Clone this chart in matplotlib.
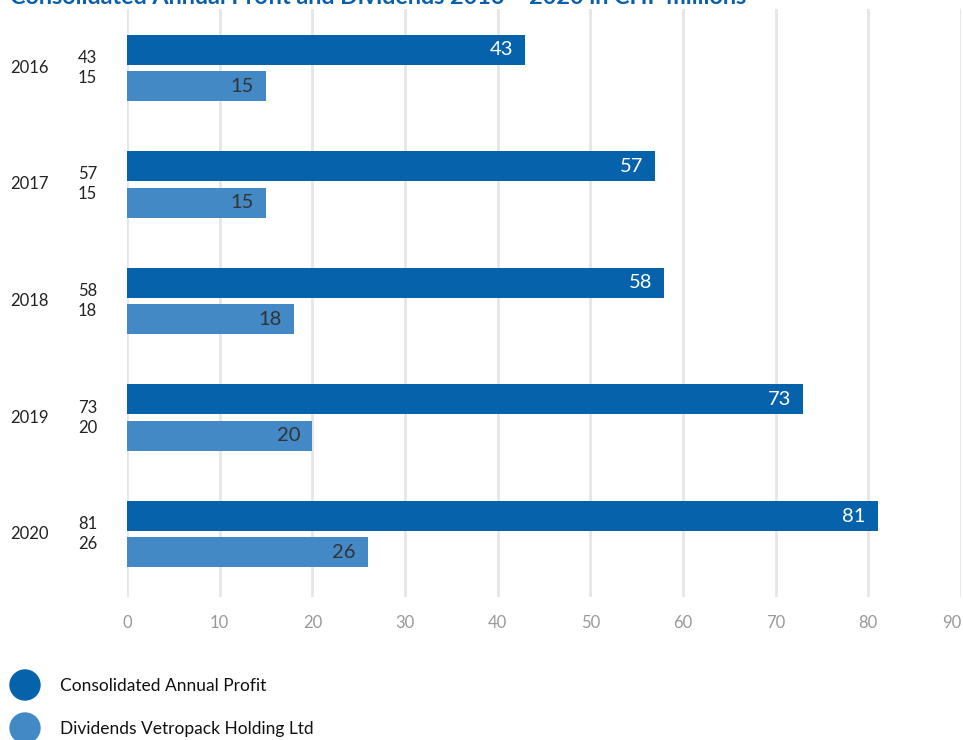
import matplotlib
matplotlib.use("Agg")
import matplotlib.pyplot as plt
from matplotlib.patches import Ellipse

years = ["2016", "2017", "2018", "2019", "2020"]
profit = [43, 57, 58, 73, 81]
dividends = [15, 15, 18, 20, 26]
series_names = ["Consolidated Annual Profit", "Dividends Vetropack Holding Ltd"]
xticks = [0, 10, 20, 30, 40, 50, 60, 70, 80, 90]
title = "Consolidated Annual Profit and Dividends 2016 – 2020 in CHF millions"

c_profit = "#0562ab"
c_div = "#4389c6"
font = "Lato"

fig = plt.figure(figsize=(9.63, 7.4), dpi=100)
W, H = 963, 740
ax = fig.add_axes([127 / W, 1 - 597 / H, 834 / W, (597 - 9) / H])

off = 0.155
bh = 0.2575
ypos = list(range(len(years)))
ax.barh([y - off for y in ypos], profit, height=bh, color=c_profit, zorder=3)
ax.barh([y + off for y in ypos], dividends, height=bh, color=c_div, zorder=3)

for y, p, d in zip(ypos, profit, dividends):
    ax.text(p - 1.3, y - off, str(p), ha="right", va="center", color="white",
            fontsize=14.5, family=font, zorder=5)
    ax.text(d - 1.3, y + off, str(d), ha="right", va="center", color="#333333",
            fontsize=14.5, family=font, zorder=5)

ax.set_xlim(0, 90)
ax.set_ylim(4.54, -0.506)
ax.set_xticks(xticks)
ax.set_xticklabels([str(t) for t in xticks], color="#999999", fontsize=12, family=font)
ax.get_xticklabels()[-1].set_ha("right")
ax.tick_params(axis="x", length=0, pad=13)
ax.set_yticks([])
ax.grid(axis="x", color="#e6e6e6", linewidth=2, zorder=0)
ax.set_axisbelow(True)
for s in ax.spines.values():
    s.set_visible(False)

# left labels
for y, yr, p, d in zip(ypos, years, profit, dividends):
    ax.annotate(yr, xy=(0, y), xycoords=("axes fraction", "data"),
                xytext=(-98, 0), textcoords="offset pixels",
                ha="center", va="center", fontsize=12, family=font, color="#222222")
    ax.annotate(str(p), xy=(0, y), xycoords=("axes fraction", "data"),
                xytext=(-30, 10), textcoords="offset pixels",
                ha="right", va="center", fontsize=12, family=font, color="#222222")
    ax.annotate(str(d), xy=(0, y), xycoords=("axes fraction", "data"),
                xytext=(-30, -10), textcoords="offset pixels",
                ha="right", va="center", fontsize=12, family=font, color="#222222")

# title (cropped at top, as in the reference)
fig.text(10 / W, 1 - 4 / H, title, ha="left", va="baseline", fontsize=16.8,
         fontweight="bold", color="#0a5eaa", family=font)

# legend
for i, (name, col) in enumerate(zip(series_names, [c_profit, c_div])):
    cy = 685 + i * 43
    e = Ellipse((25 / W, 1 - cy / H), 30 / W, 30 / H, transform=fig.transFigure,
                color=col, clip_on=False)
    fig.patches.append(e)
    fig.text(60 / W, 1 - (cy + 1) / H, name, ha="left", va="center", fontsize=12.5,
             family=font, color="#111111")

fig.savefig("out.png", dpi=100)
